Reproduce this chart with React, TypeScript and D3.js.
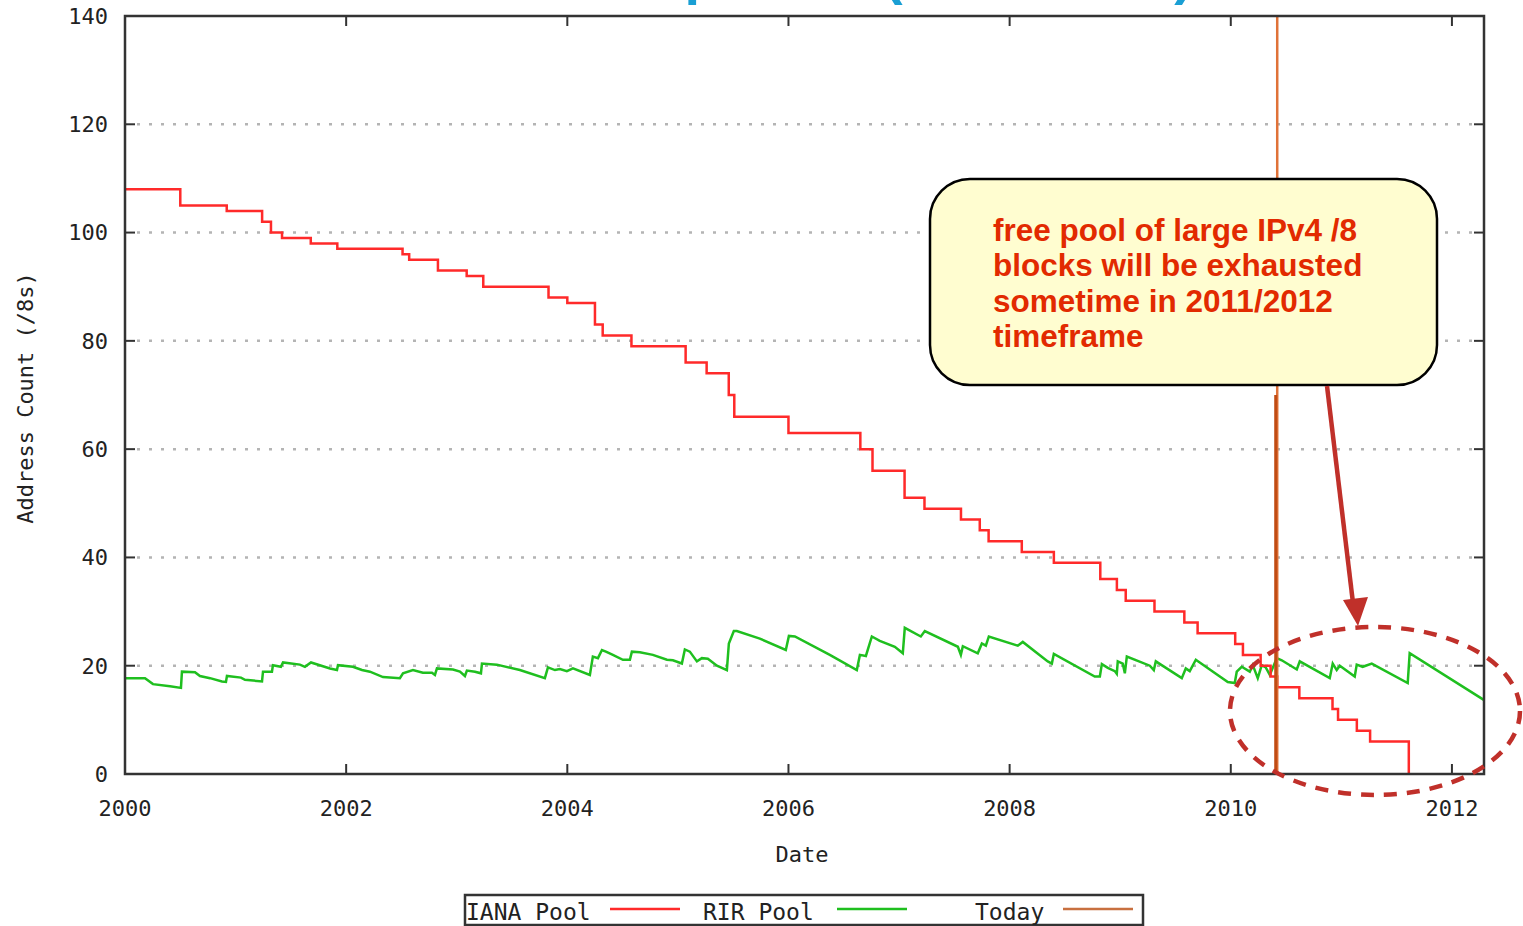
import * as d3 from "d3";

// IANA pool (/8 blocks), step function
const ianaDates = [
  2000.0, 2000.5, 2000.92, 2001.24, 2001.32, 2001.42, 2001.68, 2001.92, 2002.51, 2002.57,
  2002.83, 2003.09, 2003.24, 2003.83, 2004.0, 2004.25, 2004.32, 2004.58, 2005.07, 2005.26,
  2005.46, 2005.51, 2006.0, 2006.65, 2006.76, 2007.05, 2007.23, 2007.56, 2007.73, 2007.81,
  2008.11, 2008.4, 2008.82, 2008.97, 2009.05, 2009.31, 2009.58, 2009.7, 2010.04, 2010.11,
  2010.27, 2010.36, 2010.42, 2010.62, 2010.92, 2010.97, 2011.14, 2011.26, 2011.61,
];
const ianaValues = [
  108, 105, 104, 102, 100, 99, 98, 97, 96, 95,
  93, 92, 90, 88, 87, 83, 81, 79, 76, 74,
  70, 66, 63, 60, 56, 51, 49, 47, 45, 43,
  41, 39, 36, 34, 32, 30, 28, 26, 24, 22,
  20, 18, 16, 14, 12, 10, 8, 6, 0,
];

// RIR pool (/8 blocks)
const rirDates = [
  2000.0, 2000.181, 2000.253, 2000.407, 2000.506, 2000.515, 2000.633, 2000.678, 2000.769, 2000.877,
  2000.913, 2000.922, 2001.049, 2001.085, 2001.239, 2001.248, 2001.329, 2001.338, 2001.41, 2001.429,
  2001.582, 2001.627, 2001.682, 2001.854, 2001.917, 2001.926, 2002.061, 2002.143, 2002.215, 2002.333,
  2002.486, 2002.514, 2002.604, 2002.694, 2002.776, 2002.803, 2002.821, 2002.966, 2003.029, 2003.074,
  2003.092, 2003.165, 2003.219, 2003.228, 2003.363, 2003.571, 2003.797, 2003.825, 2003.888, 2003.933,
  2003.996, 2004.051, 2004.204, 2004.231, 2004.277, 2004.313, 2004.349, 2004.412, 2004.503, 2004.566,
  2004.584, 2004.656, 2004.774, 2004.901, 2004.955, 2005.036, 2005.063, 2005.108, 2005.172, 2005.217,
  2005.271, 2005.353, 2005.443, 2005.461, 2005.506, 2005.533, 2005.741, 2005.976, 2006.004, 2006.058,
  2006.374, 2006.618, 2006.646, 2006.7, 2006.754, 2006.826, 2006.962, 2007.034, 2007.052, 2007.197,
  2007.233, 2007.532, 2007.559, 2007.577, 2007.712, 2007.749, 2007.785, 2007.812, 2008.074, 2008.119,
  2008.345, 2008.382, 2008.4, 2008.77, 2008.816, 2008.834, 2008.888, 2008.951, 2008.969, 2008.978,
  2009.023, 2009.042, 2009.06, 2009.268, 2009.304, 2009.322, 2009.557, 2009.593, 2009.629, 2009.684,
  2009.973, 2010.036, 2010.054, 2010.099, 2010.172, 2010.199, 2010.244, 2010.28, 2010.316, 2010.353,
  2010.416, 2010.461, 2010.597, 2010.624, 2010.895, 2010.922, 2010.958, 2010.986, 2011.121, 2011.139,
  2011.193, 2011.275, 2011.6, 2011.618, 2012.288,
];
const rirValues = [
  17.7, 17.7, 16.6, 16.2, 15.9, 18.9, 18.8, 18.1, 17.7, 17.1,
  17.0, 18.1, 17.8, 17.4, 17.1, 18.9, 18.9, 20.1, 19.8, 20.6,
  20.2, 19.8, 20.6, 19.5, 19.2, 20.1, 19.8, 19.2, 18.9, 17.9,
  17.7, 18.6, 19.2, 18.7, 18.7, 18.3, 19.5, 19.3, 18.9, 18.1,
  19.1, 18.9, 18.6, 20.4, 20.2, 19.2, 17.7, 19.7, 19.2, 19.4,
  19.0, 19.5, 18.3, 21.7, 21.4, 22.9, 22.6, 22.0, 21.1, 21.1,
  22.6, 22.5, 22.0, 21.1, 21.0, 20.4, 23.0, 22.6, 20.8, 21.4,
  21.3, 20.0, 19.2, 24.1, 26.4, 26.4, 25.0, 22.9, 25.5, 25.4,
  22.0, 19.2, 22.0, 21.8, 25.4, 24.6, 23.5, 22.3, 27.0, 25.4,
  26.4, 23.5, 22.0, 23.6, 22.3, 24.1, 23.7, 25.4, 23.7, 24.4,
  20.8, 20.4, 22.2, 18.0, 18.0, 20.3, 19.6, 19.0, 18.5, 20.8,
  20.4, 18.6, 21.7, 20.0, 19.2, 20.8, 17.7, 19.5, 19.0, 21.1,
  17.0, 16.8, 18.9, 19.8, 18.9, 20.1, 17.7, 20.1, 19.7, 18.3,
  21.4, 21.0, 19.3, 20.8, 17.7, 20.4, 19.2, 20.0, 18.0, 20.2,
  19.8, 20.4, 16.8, 22.3, 13.7,
];

const todayDate = 2010.42;
const todayLevels = [140, 70];

const xTickLabels = [2000, 2002, 2004, 2006, 2008, 2010, 2012];
const yTickLabels = [0, 20, 40, 60, 80, 100, 120, 140];
const gridLevels = [20, 40, 60, 80, 100, 120];

const legendNames = ["IANA Pool", "RIR Pool", "Today"];
const calloutLines = [
  "free pool of large IPv4 /8",
  "blocks will be exhausted",
  "sometime in 2011/2012",
  "timeframe",
];

const W = 1523;
const H = 926;
const plot = { left: 125, right: 1484, top: 16, bottom: 774 };
const axisFont = "'DejaVu Sans Mono', monospace";

const ianaColor = "#ff2a2a";
const rirColor = "#1fbf1f";
const todayColor = "#e07238";
const markColor = "#c0302a";

export default function App() {
  const x = d3.scaleLinear().domain([2000, 2012.29]).range([plot.left, plot.right]);
  const y = d3.scaleLinear().domain([0, 140]).range([plot.bottom, plot.top]);

  const ianaLine = d3
    .line<number>()
    .x((d, i) => x(ianaDates[i]))
    .y((d) => y(d))
    .curve(d3.curveStepAfter);

  const rirLine = d3
    .line<number>()
    .x((d, i) => x(rirDates[i]))
    .y((d) => y(d));

  const legendX = [466, 703, 975];
  const legendLineX = [610, 837, 1063];
  const legendColors = [ianaColor, rirColor, "#c87040"];

  return (
    <svg
      width={W}
      height={H}
      style={{ position: "absolute", left: 0, top: 0, display: "block", background: "#fff" }}
    >
      {/* slide title, mostly cut off above the frame */}
      <g fill="#1a9fd4" fontFamily="'Liberation Sans', Arial, sans-serif" fontWeight="bold" fontSize={56}>
        <text x={868} y={-7} textAnchor="end">IPv4 Address Depletion</text>
        <text x={884} y={-7}>(IANA Pool)</text>
      </g>

      {/* grid */}
      {gridLevels.map((v) => (
        <line
          key={"g" + v}
          x1={plot.left + 12}
          x2={plot.right - 12}
          y1={y(v)}
          y2={y(v)}
          stroke="#b4b4b4"
          strokeWidth={2.5}
          strokeDasharray="3,9"
        />
      ))}

      {/* ticks */}
      {yTickLabels.map((v) => (
        <g key={"yt" + v}>
          <line x1={plot.left} x2={plot.left + 10} y1={y(v)} y2={y(v)} stroke="#333" strokeWidth={2} />
          <line x1={plot.right - 10} x2={plot.right} y1={y(v)} y2={y(v)} stroke="#333" strokeWidth={2} />
          <text
            x={108}
            y={y(v)}
            dy="0.36em"
            textAnchor="end"
            fontFamily={axisFont}
            fontSize={22}
            fill="#222"
          >
            {v}
          </text>
        </g>
      ))}
      {xTickLabels.map((v) => (
        <g key={"xt" + v}>
          <line x1={x(v)} x2={x(v)} y1={plot.bottom} y2={plot.bottom - 10} stroke="#333" strokeWidth={2} />
          <line x1={x(v)} x2={x(v)} y1={plot.top} y2={plot.top + 10} stroke="#333" strokeWidth={2} />
          <text
            x={x(v)}
            y={816}
            textAnchor="middle"
            fontFamily={axisFont}
            fontSize={22}
            fill="#222"
          >
            {v}
          </text>
        </g>
      ))}

      {/* series */}
      <path d={rirLine(rirValues) || ""} fill="none" stroke={rirColor} strokeWidth={2.5} />
      <path d={ianaLine(ianaValues) || ""} fill="none" stroke={ianaColor} strokeWidth={2.5} />

      {/* today marker */}
      <line
        x1={x(todayDate)}
        x2={x(todayDate)}
        y1={y(0)}
        y2={y(todayLevels[0])}
        stroke={todayColor}
        strokeWidth={2.5}
      />
      <line
        x1={x(todayDate) - 1.5}
        x2={x(todayDate) - 1.5}
        y1={y(0)}
        y2={y(todayLevels[1])}
        stroke="#c04c14"
        strokeWidth={3}
      />

      {/* frame */}
      <rect
        x={plot.left}
        y={plot.top}
        width={plot.right - plot.left}
        height={plot.bottom - plot.top}
        fill="none"
        stroke="#333"
        strokeWidth={2.5}
      />

      {/* axis titles */}
      <text x={802} y={862} textAnchor="middle" fontFamily={axisFont} fontSize={22} fill="#222">
        Date
      </text>
      <text
        transform="translate(33,398) rotate(-90)"
        textAnchor="middle"
        fontFamily={axisFont}
        fontSize={22}
        fill="#222"
      >
        Address Count (/8s)
      </text>

      {/* legend */}
      <rect x={465} y={895} width={678} height={30} fill="#fff" stroke="#333" strokeWidth={2.5} />
      {legendNames.map((name, i) => (
        <g key={name}>
          <text x={legendX[i]} y={920} fontFamily={axisFont} fontSize={23} fill="#222">
            {name}
          </text>
          <line
            x1={legendLineX[i]}
            x2={legendLineX[i] + 70}
            y1={909}
            y2={909}
            stroke={legendColors[i]}
            strokeWidth={2.5}
          />
        </g>
      ))}

      {/* callout */}
      <rect x={930} y={179} width={507} height={206} rx={40} ry={40} fill="#fffdd0" stroke="#000" strokeWidth={2.5} />
      {calloutLines.map((t, i) => (
        <text
          key={t}
          x={993}
          y={241 + i * 35.3}
          fontFamily="'Liberation Sans', Arial, sans-serif"
          fontWeight="bold"
          fontSize={31.5}
          fill="#e22a00"
        >
          {t}
        </text>
      ))}

      {/* arrow */}
      <line x1={1327} x2={1353} y1={386} y2={603} stroke={markColor} strokeWidth={4.5} />
      <path d="M1358,626 L1343,600 L1368,597 Z" fill={markColor} />

      {/* dashed ellipse */}
      <ellipse
        cx={1375}
        cy={711}
        rx={145}
        ry={84}
        fill="none"
        stroke={markColor}
        strokeWidth={4.5}
        strokeDasharray="13,10"
      />
    </svg>
  );
}
